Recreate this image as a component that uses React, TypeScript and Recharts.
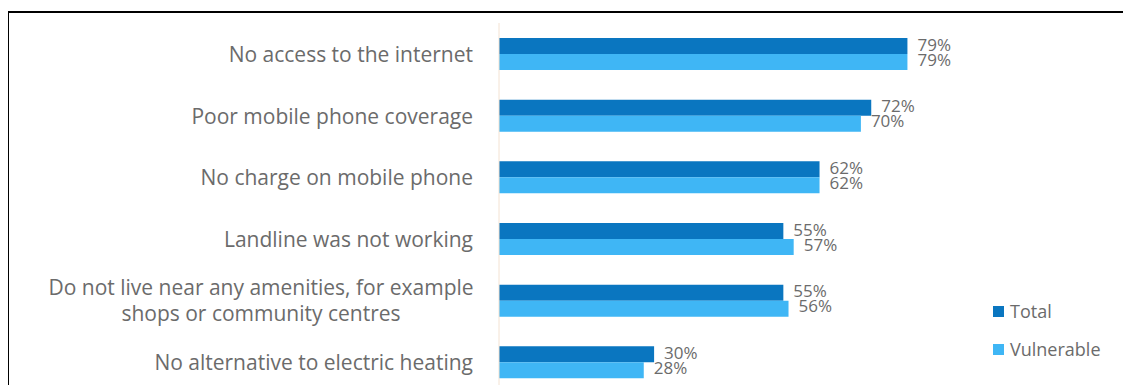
import { BarChart, Bar, XAxis, YAxis, LabelList } from 'recharts'

const categories = [
  'No access to the internet',
  'Poor mobile phone coverage',
  'No charge on mobile phone',
  'Landline was not working',
  'Do not live near any amenities, for example\nshops or community centres',
  'No alternative to electric heating',
]
const totalValues = [79, 72, 62, 55, 55, 30]
const vulnerableValues = [79, 70, 62, 57, 56, 28]

const DARK = '#0a76c0'
const LIGHT = '#3fb6f5'
const TEXT = '#6b6b6b'
const FONT = '"Open Sans", Lato, sans-serif'

const data = categories.map((name, i) => ({
  name,
  total: totalValues[i],
  vulnerable: vulnerableValues[i],
}))

function CategoryTick({ x, y, payload }: any) {
  const lines: string[] = String(payload.value).split('\n')
  if (lines.length === 1) {
    return (
      <text x={x - 26} y={y} textAnchor="end" dominantBaseline="central" fill={TEXT} fontSize={21} fontFamily={FONT}>
        {lines[0]}
      </text>
    )
  }
  // wrapped label: lines centred on each other, block right-aligned
  return (
    <text x={x - 238} y={y} textAnchor="middle" fill={TEXT} fontSize={21} fontFamily={FONT}>
      {lines.map((l, i) => (
        <tspan key={i} x={x - 238} y={y + (i - (lines.length - 1) / 2) * 26 - 1} dominantBaseline="central">
          {l}
        </tspan>
      ))}
    </text>
  )
}

function ValueLabel({ x, y, width, height, value, dy }: any) {
  return (
    <text
      x={x + width + 10}
      y={y + height / 2 + dy}
      dominantBaseline="central"
      fill={TEXT}
      fontSize={17}
      fontFamily={FONT}
    >
      {value}%
    </text>
  )
}

function LegendBox() {
  const items = [
    { label: 'Total', color: DARK },
    { label: 'Vulnerable', color: LIGHT },
  ]
  return (
    <div style={{ position: 'absolute', left: 984, top: 279, fontFamily: FONT, fontSize: 18, color: TEXT }}>
      {items.map((it) => (
        <div key={it.label} style={{ display: 'flex', alignItems: 'center', height: 38 }}>
          <span style={{ width: 11, height: 11, background: it.color, marginRight: 6, display: 'inline-block' }} />
          {it.label}
        </div>
      ))}
    </div>
  )
}

export default function App() {
  return (
    <div
      style={{
        position: 'relative',
        marginLeft: -1,
        marginTop: 3,
        borderLeft: '2px solid #000',
        borderTop: '2px solid #000',
        width: 1122,
        background: '#fff',
      }}
    >
      <BarChart
        width={1122}
        height={400}
        data={data}
        layout="vertical"
        margin={{ top: 10, right: 115, bottom: 20, left: 0 }}
        barGap={0}
      >
        <XAxis type="number" domain={[0, 100]} hide />
        <YAxis
          type="category"
          dataKey="name"
          width={490}
          tickSize={0}
          tickMargin={0}
          tickLine={false}
          axisLine={{ stroke: '#f3e2d2' }}
          tick={<CategoryTick />}
          interval={0}
        />
        <Bar dataKey="total" fill={DARK} barSize={16} isAnimationActive={false}>
          <LabelList dataKey="total" content={<ValueLabel dy={-2} />} />
        </Bar>
        <Bar dataKey="vulnerable" fill={LIGHT} barSize={16} isAnimationActive={false}>
          <LabelList dataKey="vulnerable" content={<ValueLabel dy={-3} />} />
        </Bar>
      </BarChart>
      <LegendBox />
    </div>
  )
}
